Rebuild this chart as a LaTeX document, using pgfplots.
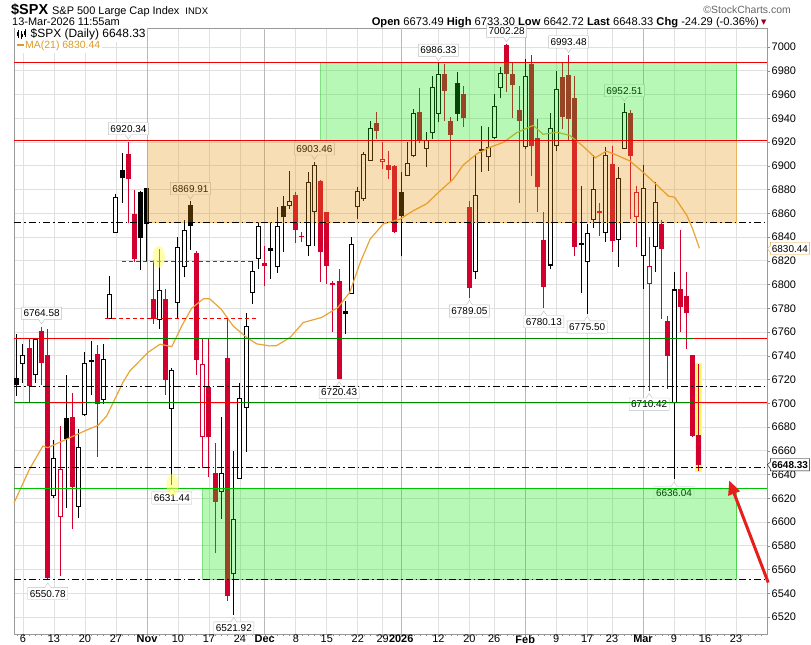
\documentclass[border=0pt]{standalone}
\usepackage{pgfplots}
\pgfplotsset{compat=1.18}
\usepackage{pgfplotstable}
\usepackage{fontspec}
\setmainfont{Liberation Sans}
\newfontfamily\dejavu{DejaVu Sans}
\usetikzlibrary{shapes.callouts,arrows.meta}

\definecolor{spxred}{RGB}{210,0,47}
\definecolor{magold}{RGB}{232,165,55}
\definecolor{magoldtxt}{RGB}{222,155,35}
\definecolor{ovgreen}{RGB}{18,231,18}
\definecolor{ovorange}{RGB}{231,145,5}
\definecolor{lnred}{RGB}{240,0,0}
\definecolor{lngreen}{RGB}{0,135,0}
\definecolor{lngreenb}{RGB}{0,195,0}
\definecolor{arrred}{RGB}{230,30,30}
\definecolor{hiyel}{RGB}{255,255,100}
\definecolor{dkred}{RGB}{150,0,30}

% x = trading-day index (0 = 6 Oct 2025), o h l c
\pgfplotstableread{
x o h l c
0 6733.4 6749.7 6717.4 6740.4
2 6723.5 6755.3 6717.4 6753.9
5 6622.0 6669.0 6620.5 6654.2
9 6613.0 6678.6 6603.7 6663.5
10 6689.9 6743.5 6689.3 6734.2
13 6702.8 6749.7 6699.1 6737.6
14 6771.3 6807.2 6770.7 6791.8
15 6843.6 6876.2 6843.0 6873.9
22 6769.9 6830.2 6762.9 6795.4
24 6695.5 6730.0 6631.44 6728.0
25 6784.7 6840.3 6770.7 6831.9
26 6814.4 6854.3 6806.0 6845.9
32 6625.3 6688.7 6602.9 6641.6
34 6556.0 6659.8 6521.92 6602.9
35 6636.5 6716.8 6636.5 6704.7
36 6696.3 6775.8 6659.0 6765.1
37 6793.2 6819.8 6783.3 6811.4
38 6821.2 6853.0 6813.0 6849.0
41 6815.0 6865.0 6810.0 6849.0
43 6865.8 6895.3 6863.5 6870.0
46 6832.7 6895.0 6824.0 6886.0
47 6860.7 6903.46 6832.7 6900.6
53 6792.0 6839.7 6792.0 6834.0
54 6865.0 6881.8 6855.0 6878.4
55 6872.0 6911.3 6870.6 6909.9
56 6904.2 6938.0 6904.0 6931.5
62 6891.6 6919.7 6891.6 6902.0
63 6907.9 6947.8 6907.0 6944.4
65 6914.0 6928.0 6898.7 6921.6
66 6927.3 6975.8 6922.5 6966.0
67 6943.5 6986.33 6936.6 6977.2
73 6810.2 6909.0 6804.6 6875.3
75 6907.0 6932.3 6895.8 6915.5
76 6923.0 6960.4 6922.5 6950.0
77 6965.2 6982.8 6956.7 6978.0
81 6916.0 6990.0 6913.8 6975.5
85 6816.0 6944.6 6812.7 6931.4
86 6916.6 6979.7 6912.3 6964.3
91 6818.9 6850.6 6775.50 6843.0
92 6854.3 6908.7 6847.8 6880.6
94 6843.0 6916.0 6835.7 6908.7
96 6837.2 6899.0 6814.7 6889.4
97 6914.3 6952.51 6913.7 6945.6
100 6823.7 6900.3 6796.4 6880.9
102 6831.4 6886.2 6810.9 6869.3
105 6700.4 6810.4 6636.04 6795.8
}\HB

\pgfplotstableread{
x o h l c
-1 6721.6 6758.0 6706.2 6715.4
7 6687.9 6723.6 6612.1 6670.2
11 6736.2 6752.2 6706.7 6734.8
16 6896.4 6911.0 6868.9 6889.4
19 6878.1 6879.0 6812.2 6838.9
20 6881.0 6881.5 6819.2 6850.9
27 6867.0 6869.91 6829.0 6849.2
40 6830.7 6852.3 6805.0 6828.5
42 6865.8 6874.8 6827.0 6856.5
52 6777.3 6786.4 6758.3 6774.8
61 6877.6 6894.4 6823.7 6857.9
70 6969.6 6978.6 6938.0 6943.5
74 6914.0 6933.7 6894.4 6912.7
90 6835.2 6882.9 6793.0 6833.5
}\FB

\pgfplotstableread{
x o h l c
6 6604.3 6680.9 6554.6 6644.4
29 6671.9 6755.3 6645.8 6733.4
58 6902.8 6920.3 6897.0 6905.6
99 6856.5 6883.2 6831.2 6878.2
101 6800.6 6839.9 6710.42 6816.0
}\HR

\pgfplotstableread{
x o h l c
1 6746.3 6753.9 6700.0 6714.6
3 6760.6 6764.58 6715.1 6734.2
4 6740.4 6762.3 6550.78 6552.5
8 6688.7 6709.0 6593.9 6629.8
12 6741.2 6749.4 6654.8 6699.1
17 6909.9 6920.34 6851.5 6888.5
18 6859.3 6879.5 6819.2 6821.2
21 6788.1 6820.6 6766.5 6770.7
23 6787.6 6796.5 6707.0 6719.6
28 6826.3 6828.3 6723.8 6736.5
30 6714.0 6755.3 6638.2 6671.9
31 6641.0 6666.9 6574.2 6617.0
33 6737.9 6770.7 6533.5 6537.7
39 6818.5 6832.7 6799.0 6816.0
44 6875.3 6877.6 6835.0 6846.1
45 6841.0 6844.0 6835.5 6840.0
48 6887.4 6888.0 6801.8 6827.0
49 6860.7 6861.0 6800.4 6815.8
50 6801.0 6803.0 6760.0 6800.0
51 6802.9 6813.0 6720.43 6720.6
57 6936.0 6945.0 6922.5 6929.5
59 6900.6 6912.6 6888.8 6896.4
60 6900.0 6900.5 6843.4 6844.5
64 6945.5 6965.2 6919.1 6921.1
68 6977.2 6985.6 6938.0 6963.2
69 6937.4 6940.7 6886.0 6926.1
71 6960.4 6967.4 6932.3 6939.9
72 6864.9 6870.6 6789.05 6796.7
78 7001.6 7002.28 6961.8 6977.5
79 6976.9 6986.7 6940.4 6967.6
80 6946.9 6967.1 6868.8 6937.6
82 6985.3 6993.0 6891.3 6916.6
83 6923.6 6939.0 6861.0 6882.3
84 6837.4 6861.0 6780.13 6798.1
87 6974.7 6986.7 6930.6 6941.3
88 6976.1 6993.48 6920.8 6939.6
89 6956.7 6975.5 6824.0 6831.8
93 6862.0 6868.3 6840.8 6860.0
95 6901.1 6916.6 6827.3 6836.6
98 6944.5 6946.6 6855.0 6908.3
103 6851.1 6853.9 6771.1 6830.0
104 6769.1 6773.3 6712.1 6739.7
106 6796.4 6845.5 6759.9 6780.9
107 6790.2 6810.9 6745.8 6775.9
108 6740.8 6741.0 6672.0 6672.62
109 6673.49 6733.30 6642.72 6648.33
}\FR

\pgfplotsset{
  wick/.style={draw=none, mark=none, forget plot, error bars/.cd, y dir=plus, y explicit, error mark=none,
     error bar style={draw=#1, line width=1bp, solid}},
  body/.style={draw=none, mark=none, forget plot, error bars/.cd, y dir=plus, y explicit, error mark=none,
     error bar style={draw=#1, line width=5bp, solid, line cap=butt}},
  inner/.style={draw=none, mark=none, forget plot, error bars/.cd, y dir=plus, y explicit, error mark=none,
     error bar style={draw=white, line width=3bp, solid, line cap=butt}},
}
\tikzset{
  plab/.style={rectangle callout, draw=black!25, fill=white, inner xsep=2bp, inner ysep=2.5bp,
     text height=7.3bp, text depth=0bp, font=\fontsize{10}{10}\selectfont, callout pointer width=6bp, anchor=pointer},
  pa/.style={plab, callout relative pointer={(0bp,-4.5bp)}},
  pb/.style={plab, callout relative pointer={(0bp,4.5bp)}},
  dd/.style={black, line width=1bp, dash pattern=on 7bp off 3bp on 1.5bp off 3bp},
}

\begin{document}
\begin{tikzpicture}
\useasboundingbox (0,0) rectangle (811bp,645bp);
\begin{axis}[
  at={(14bp,11bp)}, anchor=south west,
  width=753bp, height=606bp, scale only axis,
  xmin=-1.45, xmax=120.0, ymin=6505.7, ymax=7016.0,
  clip=false,
  axis line style={draw=black!40},
  xtick={0,5,10,15,20,25,30,35,39,44,49,54,58,61,67,72,76,81,86,91,95,100,105,110,115},
  xticklabels={6,13,20,27,\textbf{Nov},10,17,24,\textbf{Dec},8,15,22,29,\textbf{2026},12,20,26,\textbf{Feb},9,17,23,\textbf{Mar},9,16,23},
  minor xtick={-1,0,...,119},
  extra x ticks={20,39,61,81,100}, extra x tick labels={},
  extra x tick style={major grid style={draw=black!28, line width=0.8bp}},
  ytick={6520,6540,...,7000},
  xtick pos=left, ytick pos=right, yticklabel pos=right,
  tick align=outside, major tick length=3bp, minor tick length=2bp,
  tick style={draw=black!45},
  grid=major, major grid style={draw=black!12, line width=0.8bp},
  tick label style={font=\fontsize{11}{12}\selectfont},
  xticklabel style={inner sep=0bp, yshift=2bp},
  yticklabel style={inner sep=1.5bp},
  /pgf/number format/assume math mode=true,
  /pgf/number format/1000 sep={},
]
% highlights
\addplot[only marks, mark=*, mark size=6bp, mark options={yscale=1.8, fill=hiyel, draw=hiyel, fill opacity=0.55, draw opacity=0.3}, forget plot]
  coordinates {(21.9,6823.2) (24.1,6631.2)};
\addplot[fill=hiyel, draw=none, forget plot] coordinates {(108.45,6642) (109.55,6642) (109.55,6734) (108.45,6734)} -- cycle;

% candles: hollow black
\addplot[wick=black] table[x=x, y=l, y error expr={\thisrow{h}-\thisrow{l}}] {\HB};
\addplot[body=black] table[x=x, y expr={min(\thisrow{o},\thisrow{c})}, y error expr={max(abs(\thisrow{c}-\thisrow{o}),0.9)}] {\HB};
\addplot[inner] table[x=x, y expr={min(\thisrow{o},\thisrow{c})+0.85}, y error expr={max(abs(\thisrow{c}-\thisrow{o})-1.7,0)}] {\HB};
% filled black
\addplot[wick=black] table[x=x, y=l, y error expr={\thisrow{h}-\thisrow{l}}] {\FB};
\addplot[body=black] table[x=x, y expr={min(\thisrow{o},\thisrow{c})}, y error expr={max(abs(\thisrow{c}-\thisrow{o}),0.9)}] {\FB};
% hollow red
\addplot[wick=spxred] table[x=x, y=l, y error expr={\thisrow{h}-\thisrow{l}}] {\HR};
\addplot[body=spxred] table[x=x, y expr={min(\thisrow{o},\thisrow{c})}, y error expr={max(abs(\thisrow{c}-\thisrow{o}),0.9)}] {\HR};
\addplot[inner] table[x=x, y expr={min(\thisrow{o},\thisrow{c})+0.85}, y error expr={max(abs(\thisrow{c}-\thisrow{o})-1.7,0)}] {\HR};
% filled red
\addplot[wick=spxred] table[x=x, y=l, y error expr={\thisrow{h}-\thisrow{l}}] {\FR};
\addplot[body=spxred] table[x=x, y expr={min(\thisrow{o},\thisrow{c})}, y error expr={max(abs(\thisrow{c}-\thisrow{o}),0.9)}] {\FR};

% MA(21)
\addplot[magold, line width=1.2bp, mark=none, forget plot] coordinates {
(-1.45,6616) (1.0,6644) (3.2,6664) (4,6662.6) (7,6669.7) (10.3,6677.5) (12.1,6681.4) (13.5,6689.3)
(16.1,6717.4) (17.2,6727) (20.2,6743) (22.1,6749.7) (24,6747.7) (25.6,6765) (27.2,6780) (29.1,6788)
(30.1,6788) (32,6779) (33.9,6765) (36.1,6755.3) (37.7,6750) (39.8,6748.3) (40.9,6748.5) (43.1,6755.5)
(45.2,6768) (48.2,6772.3) (50.8,6780.7) (52.7,6793.4) (54.4,6818.6) (56,6838.3) (58.1,6851) (60.8,6855)
(62.9,6862) (65.1,6868) (67.3,6879) (69.4,6888.8) (71,6900.6) (73.2,6910) (75.3,6915.5) (77.5,6919.7)
(79.6,6927.8) (82.3,6934) (83.9,6926.4) (86.1,6928.3) (88.2,6925.5) (90.3,6916.6) (92.3,6906.7)
(94.1,6912.3) (95.5,6909.5) (97.9,6904) (100,6894.6) (102.2,6884) (104.1,6874.4) (105.1,6873.5)
(107.1,6858) (108.1,6845.5) (109.1,6830.44)};

% price labels
\node[pa] at (axis cs:3,6766.5) {6764.58};
\node[pb] at (axis cs:4,6549) {6550.78};
\node[pa] at (axis cs:17,6922) {6920.34};
\node[pa] at (axis cs:27,6871.5) {6869.91};
\node[pb] at (axis cs:24,6629.5) {6631.44};
\node[pb] at (axis cs:34,6520) {6521.92};
\node[pa] at (axis cs:47,6905) {6903.46};
\node[pb] at (axis cs:51,6718.5) {6720.43};
\node[pa] at (axis cs:67,6988) {6986.33};
\node[pb] at (axis cs:72,6787) {6789.05};
\node[pa] at (axis cs:78,7004) {7002.28};
\node[pa] at (axis cs:88,6995) {6993.48};
\node[pb] at (axis cs:84,6778) {6780.13};
\node[pb] at (axis cs:91,6773.5) {6775.50};
\node[pa] at (axis cs:97,6954) {6952.51};
\node[pb] at (axis cs:101,6708.5) {6710.42};
\node[pb] at (axis cs:105,6634) {6636.04};

% zones (translucent overlays)
\addplot[fill=ovorange, fill opacity=0.3, draw=ovorange!80, draw opacity=0.6, line width=1bp, forget plot]
  coordinates {(20.05,6852.5) (115.1,6852.5) (115.1,6921) (20.05,6921)} -- cycle;
\addplot[fill=ovgreen, fill opacity=0.3, draw=lngreenb, draw opacity=0.5, line width=1bp, forget plot]
  coordinates {(48.06,6921) (115.1,6921) (115.1,6986.7) (48.06,6986.7)} -- cycle;
\addplot[fill=ovgreen, fill opacity=0.3, draw=lngreenb, draw opacity=0.5, line width=1bp, forget plot]
  coordinates {(29.0,6551.8) (115.1,6551.8) (115.1,6628.5) (29.0,6628.5)} -- cycle;

% horizontal levels
\addplot[lnred, line width=1bp, forget plot] coordinates {(-1.45,6986.7) (120,6986.7)};
\addplot[lnred, line width=1bp, forget plot] coordinates {(-1.45,6921) (120,6921)};
\addplot[dd, forget plot] coordinates {(-1.45,6852.5) (120,6852.5)};
\addplot[dd, forget plot] coordinates {(-1.45,6714.5) (120,6714.5)};
\addplot[dd, forget plot] coordinates {(-1.45,6646) (120,6646)};
\addplot[dd, forget plot] coordinates {(-1.45,6551.8) (120,6551.8)};
\addplot[lnred, line width=1bp, forget plot] coordinates {(-1.45,6754.5) (14.03,6754.5)};
\addplot[lngreen, line width=1bp, forget plot] coordinates {(14.03,6754.5) (108.06,6754.5)};
\addplot[lnred, line width=1bp, forget plot] coordinates {(108.06,6754.5) (120,6754.5)};
\addplot[lngreen, line width=1bp, forget plot] coordinates {(-1.45,6701) (108.06,6701)};
\addplot[lnred, line width=1bp, forget plot] coordinates {(4.35,6701) (10.0,6701)};
\addplot[lnred, line width=1bp, forget plot] coordinates {(28.5,6701) (35.0,6701)};
\addplot[lnred, line width=1bp, forget plot] coordinates {(108.06,6701) (120,6701)};
\addplot[lngreenb, line width=1bp, forget plot] coordinates {(-1.45,6628.5) (120,6628.5)};
\addplot[lnred, line width=1bp, dash pattern=on 4bp off 3bp, forget plot] coordinates {(16,6819) (36.9,6819)};
\addplot[lnred, line width=1bp, dash pattern=on 4bp off 3bp, forget plot] coordinates {(13.2,6771) (37.9,6771)};

% right-side value boxes
\node[rectangle callout, draw=magold, fill=white, inner xsep=1.5bp, inner ysep=2.5bp, text height=7.3bp, text depth=0bp,
  font=\fontsize{10}{11}\selectfont, callout relative pointer={(-3bp,0bp)}, callout pointer width=7bp, anchor=pointer]
  at (axis cs:120.02,6830.44) {6830.44};
\node[rectangle callout, draw=black, fill=white, inner xsep=1.5bp, inner ysep=2.5bp, text height=7.3bp, text depth=0bp,
  font=\fontsize{10}{11}\selectfont\bfseries, callout relative pointer={(-3bp,0bp)}, callout pointer width=7bp, anchor=pointer]
  at (axis cs:120.02,6648.33) {6648.33};

% arrow
\draw[-{Triangle[length=14bp,width=12bp]}, draw=arrred, fill=arrred, line width=3bp]
  (axis cs:120.2,6549) -- (axis cs:113.9,6635);
\end{axis}

% header
\node[anchor=base west, inner sep=0] at (11bp,630bp)
  {{\fontsize{14.5}{15}\selectfont\bfseries \$SPX}\hspace{4bp}{\fontsize{11}{12}\selectfont S\&P 500 Large Cap Index}\hspace{6bp}{\fontsize{9.5}{10}\selectfont INDX}};
\node[anchor=base east, inner sep=0, text=black!60] at (791bp,631bp) {\fontsize{10.5}{11}\selectfont \textcopyright StockCharts.com};
\node[anchor=base west, inner sep=0] at (12bp,619bp) {\fontsize{11}{12}\selectfont 13-Mar-2026 11:55am};
\node[anchor=base east, inner sep=0] at (759bp,619bp) {\fontsize{11.2}{12}\selectfont \textbf{Open} 6673.49 \textbf{High} 6733.30 \textbf{Low} 6642.72 \textbf{Last} 6648.33 \textbf{Chg} -24.29 (-0.36\%)};
\node[anchor=base west, inner sep=0, text=dkred] at (761bp,620bp) {\dejavu\fontsize{7}{7}\selectfont ▼};

% legend
\node[anchor=base west, fill=white, inner xsep=1.5bp, inner ysep=1.5bp] at (15bp,607bp)
  {\fontsize{12}{13}\selectfont\hspace{14bp}\$SPX (Daily) 6648.33};
\draw[black, line width=0.7bp] (18bp,607bp) -- (18bp,615bp) (21.5bp,606bp) -- (21.5bp,614bp) (25bp,608bp) -- (25bp,616bp);
\fill[black] (17bp,609bp) rectangle (19bp,613bp);
\fill[black] (20.5bp,608bp) rectangle (22.5bp,611bp);
\fill[black] (24bp,610bp) rectangle (26bp,614bp);
\node[anchor=base west, fill=white, inner xsep=1.5bp, inner ysep=1.5bp, text=magoldtxt] at (15bp,596bp)
  {\fontsize{10.5}{11}\selectfont\rule[0.28em]{7bp}{2.2bp}\hspace{1.5bp}MA(21) 6830.44};
\end{tikzpicture}
\end{document}
